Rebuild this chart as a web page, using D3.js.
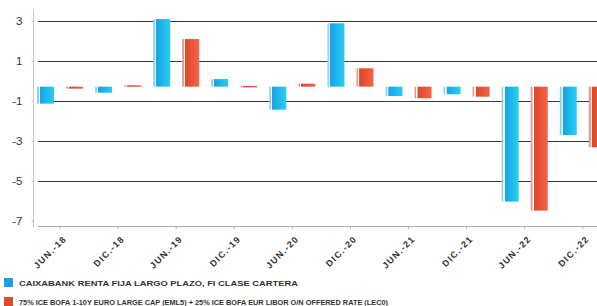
<!DOCTYPE html>
<html>
<head>
<meta charset="utf-8">
<script src="https://cdn.jsdelivr.net/npm/d3@7"></script>
<style>
  body { margin: 0; background: #fff; }
  .chart svg { display: block; }
</style>
</head>
<body>
<div class="chart"></div>
<script>
// data
const categories = ['JUN.-18', 'DIC.-18', 'JUN.-19', 'DIC.-19', 'JUN.-20', 'DIC.-20', 'JUN.-21', 'DIC.-21', 'JUN.-22', 'DIC.-22'];
const fondo = [-0.85, -0.3, 3.38, 0.38, -1.15, 3.17, -0.47, -0.38, -5.75, -2.42];
const indice = [-0.1, 0.07, 2.38, 0.04, 0.15, 0.92, -0.58, -0.5, -6.2, -3.03];
const seriesNames = [
  'CAIXABANK RENTA FIJA LARGO PLAZO, FI CLASE CARTERA',
  '75% ICE BOFA 1-10Y EURO LARGE CAP (EML5) + 25% ICE BOFA EUR LIBOR O/N OFFERED RATE (LEC0)'
];
const yTickValues = [3.3, 1.3, -0.7, -2.7, -4.7, -6.7];
const yTickLabels = ['3', '1', '-1', '-3', '-5', '-7'];

const width = 597, height = 306;
const plotLeft = 38, plotTop = 20.7, plotBottom = 226;

const svg = d3.select('.chart')
  .append('svg')
    .attr('width', width)
    .attr('height', height);

const defs = svg.append('defs');
function barGradient(id, edge, body0, body1) {
  const g = defs.append('linearGradient').attr('id', id)
    .attr('x1', '0%').attr('x2', '100%').attr('y1', '0%').attr('y2', '0%');
  [[0, edge], [0.1, edge], [0.11, '#f4f8fa'], [0.17, '#f4f8fa'], [0.18, body0], [1, body1]]
    .forEach(s => g.append('stop').attr('offset', s[0]).attr('stop-color', s[1]));
}
barGradient('gBlue', '#8fd0f0', '#17a3e4', '#27cdf5');
barGradient('gRed', '#e3998a', '#de4629', '#f36548');

const colors = { fondo: 'url(#gBlue)', indice: 'url(#gRed)' };
const legendColors = ['#1aa1e2', '#dc4a2e'];

const yScale = d3.scaleLinear()
  .domain([-6.97, 3.3])
  .range([plotBottom, plotTop]);

const x0 = d3.scaleBand()
  .domain(categories)
  .range([31, 611.8])
  .paddingInner(0.2066)
  .paddingOuter(0.1033);

const x1 = d3.scaleBand()
  .domain(['fondo', 'indice'])
  .range([0, x0.bandwidth()])
  .paddingInner(0.414);

// grid lines (the lowest tick has no line, the axis sits just below it)
svg.append('g')
  .selectAll('line')
  .data(yTickValues.slice(0, -1))
  .enter()
  .append('line')
    .attr('x1', plotLeft)
    .attr('x2', width)
    .attr('y1', d => Math.round(yScale(d)) + 0.5)
    .attr('y2', d => Math.round(yScale(d)) + 0.5)
    .attr('stroke', '#3a3a3a')
    .attr('stroke-width', 1.2);

// y axis
const yAxis = d3.axisLeft(yScale)
  .tickValues(yTickValues)
  .tickFormat((d, i) => yTickLabels[i])
  .tickSize(2)
  .tickPadding(9);

const gy = svg.append('g')
  .attr('transform', 'translate(33.5, 0)')
  .call(yAxis);
gy.select('.domain').remove();
gy.append('line')
  .attr('y1', 10).attr('y2', plotBottom + 1)
  .attr('stroke', '#c8c8c8');
gy.selectAll('.tick line').attr('stroke', '#bbb');
gy.selectAll('text')
  .attr('fill', '#333')
  .style('font-family', '"Liberation Sans", Arial, sans-serif')
  .style('font-size', '11.5px');

// bars
const rows = categories.map((c, i) => ({ cat: c, fondo: fondo[i], indice: indice[i] }));
const groups = svg.append('g')
  .selectAll('g')
  .data(rows)
  .enter()
  .append('g')
    .attr('transform', d => `translate(${x0(d.cat)}, 0)`);

groups.selectAll('rect')
  .data(d => ['fondo', 'indice'].map(k => ({ key: k, value: d[k] })))
  .enter()
  .append('rect')
    .attr('x', d => x1(d.key))
    .attr('width', x1.bandwidth())
    .attr('y', d => Math.min(yScale(d.value), yScale(0)))
    .attr('height', d => Math.max(1.5, Math.abs(yScale(d.value) - yScale(0))))
    .attr('fill', d => colors[d.key]);

// x axis
const xAxis = d3.axisBottom(x0)
  .tickSize(3)
  .tickSizeOuter(0);
const gx = svg.append('g')
  .attr('transform', `translate(0, ${plotBottom + 0.5})`)
  .call(xAxis);
gx.select('.domain').remove();
gx.append('line')
  .attr('x1', plotLeft).attr('x2', width)
  .attr('stroke', '#aaa');
gx.selectAll('.tick line').attr('stroke', '#bbb');
gx.selectAll('text')
  .attr('fill', '#333')
  .style('font-family', '"Liberation Sans", Arial, sans-serif')
  .style('font-size', '9px')
  .style('font-weight', 'bold')
  .style('letter-spacing', '1.2px')
  .attr('text-anchor', 'end')
  .attr('dy', '0')
  .attr('y', 0)
  .attr('transform', 'translate(7, 13) rotate(-45)');

// legend
const legend = svg.append('g')
  .selectAll('g')
  .data(seriesNames)
  .enter()
  .append('g')
    .attr('transform', (d, i) => `translate(4, ${278 + i * 19})`);
legend.append('rect')
  .attr('width', 9)
  .attr('height', 9)
  .attr('fill', (d, i) => legendColors[i]);
legend.append('text')
  .attr('x', 15)
  .attr('y', 8)
  .attr('fill', '#333')
  .attr('textLength', (d, i) => [279, 369][i])
  .attr('lengthAdjust', 'spacingAndGlyphs')
  .style('font-family', '"Liberation Sans", Arial, sans-serif')
  .style('font-size', '8px')
  .style('font-weight', 'bold')
  .text(d => d);
</script>
</body>
</html>
